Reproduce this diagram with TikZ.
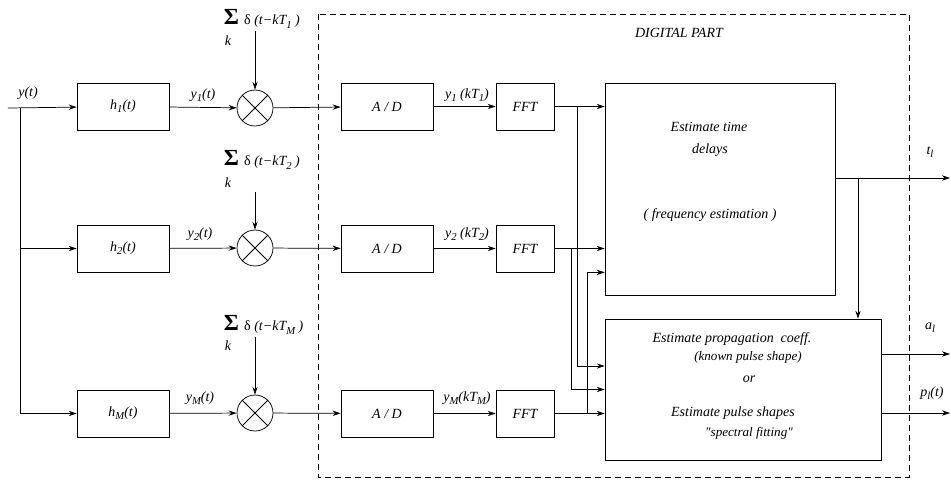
\documentclass[tikz,border=0pt]{standalone}
\usepackage{fontspec}
\setmainfont{Liberation Serif}
\newfontfamily\qfont{Liberation Serif}
\usetikzlibrary{calc}
\usetikzlibrary{arrows.meta,shapes}

\newcommand{\dn}[1]{\raisebox{-0.5ex}{\footnotesize #1}}
\newcommand{\sumd}[1]{{\LARGE\bfseries\upshape Σ}\hspace{4pt}{\upshape δ} (t−kT\dn{#1} )}

\begin{document}
\begin{tikzpicture}[x=0.75pt,y=-0.75pt,line width=0.55pt,>={Stealth[length=6pt,width=4pt,inset=2pt]},
  every node/.style={font=\fontsize{10.5}{12.5}\selectfont\itshape},
  blk/.style={draw,rectangle,minimum height=35.25pt,inner sep=0pt},
  mult/.style={draw,circle,minimum size=27pt,inner sep=0pt},
  small/.style={font=\fontsize{9.8}{11}\selectfont\itshape}]

\useasboundingbox (0,0) rectangle (951,480);

  % digital part
  \draw[dash pattern=on 4.5pt off 3pt] (318,14) rectangle (909,477);
  \node (title) at (679,33) {DIGITAL PART};

  % input
  \coordinate (in) at (8,108);
  \coordinate (j) at (20,108);
  \node (y) at (28,93) {y(t)};

  \node[blk,minimum width=69pt] (h1) at (123,106.5) {h\dn{1}(t)};
  \node[blk,minimum width=69pt] (h2) at (123,248.5) {h\dn{2}(t)};
  \node[blk,minimum width=69pt] (hM) at (123,413.5) {h\dn{M}(t)};

  \node[mult] (m1) at (255,108) {};
  \node[mult] (m2) at (255,248) {};
  \node[mult] (mM) at (255,413) {};
  \foreach \m in {m1,m2,mM} {
    \draw (\m.north west) -- (\m.south east);
    \draw (\m.north east) -- (\m.south west);
  }

  \node (ly1) at (203,95) {y\dn{1}(t)};
  \node (ly2) at (200,234) {y\dn{2}(t)};
  \node (lyM) at (200,398) {y\dn{M}(t)};

  % sampling
  \node[anchor=west] (s1) at (219,19) {\sumd{1}};
  \node[anchor=west] (s2) at (219,160) {\sumd{2}};
  \node[anchor=west] (sM) at (219,325) {\sumd{M}};
  \node (k1) at (228,41) {k};
  \node (k2) at (228,183) {k};
  \node (kM) at (228,346) {k};
  \coordinate (a1) at (255,31);
  \coordinate (a2) at (255,192);
  \coordinate (aM) at (255,337);

  \node[blk,minimum width=69pt] (ad1) at (387,106.5) {A / D};
  \node[blk,minimum width=69pt] (ad2) at (387,248.5) {A / D};
  \node[blk,minimum width=69pt] (adM) at (387,413.5) {A / D};

  \node[blk,minimum width=43.5pt] (fft1) at (525,106.5) {FFT};
  \node[blk,minimum width=43.5pt] (fft2) at (525,248.5) {FFT};
  \node[blk,minimum width=43.5pt] (fftM) at (525,413.5) {FFT};

  \node (lk1) at (467,95) {y\dn{1} (kT\dn{1})};
  \node (lk2) at (467,234) {y\dn{2} (kT\dn{2})};
  \node (lkM) at (467,398) {y\dn{M}(kT\dn{M})};

  % estimators
  \node[blk,minimum width=172.5pt,minimum height=159pt] (est) at (720,189) {};
  \node (e1) at (709,127) {Estimate time};
  \node (e2) at (710,150) {delays};
  \node (e3) at (710,215) {( frequency estimation )};

  \node[blk,minimum width=207pt,minimum height=105.75pt] (prop) at (743,389.5) {};
  \node (p1) at (732,339) {Estimate propagation \ coeff.};
  \node[small] (p2) at (748,357) {(known pulse shape)};
  \node (p3) at (749,379) {or};
  \node (p4) at (733,413) {Estimate pulse shapes};
  \node[small] (p5) at (749,433) {\qfont"spectral fitting"};

  % outputs
  \coordinate (tl) at (950,178);
  \coordinate (al) at (950,354);
  \coordinate (pl) at (950,413);
  \node (ltl) at (930,152) {t\dn{l}};
  \node (lal) at (930,328) {a\dn{l}};
  \node (lpl) at (932,393) {p\dn{l}(t)};

  \coordinate (c1) at (577,107);
  \coordinate (c2) at (571,248);
  \coordinate (c3) at (587,413);
  \coordinate (c4) at (858,178);

  \draw[->] (in) -- (h1);
  \draw[->] (j) |- (h2);
  \draw[->] (j) |- (hM);
  \draw[->] (h1) -- (m1);
  \draw[->] (h2) -- (m2);
  \draw[->] (hM) -- (mM);
  \draw[->] (a1) -- (m1);
  \draw[->] (a2) -- (m2);
  \draw[->] (aM) -- (mM);
  \draw[->] (m1) -- (ad1);
  \draw[->] (m2) -- (ad2);
  \draw[->] (mM) -- (adM);
  \draw[->] (ad1) -- (fft1);
  \draw[->] (ad2) -- (fft2);
  \draw[->] (adM) -- (fftM);

  \draw[->] (fft1) -- (fft1 -| est.west);
  \draw[->] (fft2) -- (fft2 -| est.west);
  \draw[->] (fftM) -- (fftM -| prop.west);
  \draw[->] (c1) |- ($(prop.west)+(0,-23.5)$);
  \draw[->] (c2) |- (prop.west);
  \draw[->] (c3) |- ($(est.south west)+(0,-23)$);

  \draw[->] (est.east |- tl) -- (tl);
  \draw[->] (c4) -- (c4 |- prop.north);
  \draw[->] (prop.east |- al) -- (al);
  \draw[->] (prop.east |- pl) -- (pl);

\end{tikzpicture}
\end{document}
